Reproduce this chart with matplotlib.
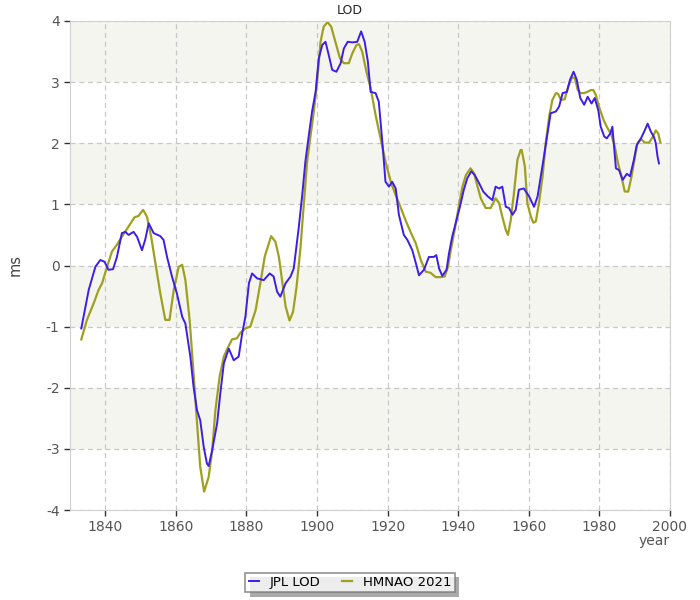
import matplotlib
matplotlib.use('Agg')
import matplotlib.pyplot as plt
from matplotlib.patches import Rectangle

plt.rcParams['font.family'] = ['DejaVu Sans']
plt.rcParams['axes.unicode_minus'] = False

# --- data ---
jpl_year = [1833.2, 1835.3, 1837.2, 1838.6, 1839.8, 1840.9, 1842.2, 1843.3, 1844.7, 1845.7,
            1846.6, 1848.0, 1849.0, 1850.4, 1851.3, 1852.3, 1853.7, 1855.6, 1856.5, 1857.5,
            1858.9, 1860.3, 1861.8, 1862.7, 1864.1, 1865.0, 1866.0, 1866.9, 1867.9, 1868.8,
            1869.3, 1870.3, 1871.7, 1872.6, 1873.6, 1875.0, 1876.4, 1877.8, 1878.8, 1879.7,
            1880.7, 1881.6, 1883.0, 1884.9, 1886.6, 1887.7, 1888.7, 1889.6, 1891.1, 1892.5,
            1893.4, 1894.8, 1895.8, 1896.7, 1897.7, 1898.6, 1899.6, 1900.5, 1901.5, 1902.4,
            1903.3, 1904.3, 1905.5, 1906.7, 1907.6, 1908.7, 1910.0, 1911.4, 1912.5, 1913.5,
            1914.4, 1915.2, 1916.6, 1917.5, 1918.5, 1919.4, 1920.4, 1921.3, 1922.3, 1923.2,
            1924.6, 1925.6, 1927.0, 1928.0, 1928.9, 1930.3, 1931.7, 1933.1, 1933.8, 1934.6,
            1935.5, 1936.7, 1937.4, 1938.3, 1939.3, 1940.5, 1941.6, 1942.6, 1943.7, 1944.7,
            1945.9, 1947.1, 1948.4, 1949.7, 1950.6, 1951.6, 1952.5, 1953.5, 1954.4, 1955.4,
            1956.3, 1957.2, 1958.6, 1960.1, 1961.5, 1962.5, 1963.4, 1964.3, 1965.3, 1966.2,
            1967.7, 1968.6, 1969.6, 1970.8, 1971.7, 1972.7, 1973.6, 1974.6, 1975.7, 1976.7,
            1977.8, 1978.7, 1979.7, 1980.4, 1981.4, 1982.1, 1983.1, 1983.7, 1984.2, 1984.7,
            1985.6, 1986.6, 1987.8, 1988.7, 1989.8, 1990.6, 1991.8, 1992.7, 1993.7, 1994.6,
            1995.5, 1996.0, 1996.5, 1996.9]
jpl_lod = [-1.03, -0.40, -0.02, 0.09, 0.06, -0.07, -0.06, 0.14, 0.53, 0.55,
           0.50, 0.55, 0.47, 0.25, 0.42, 0.69, 0.53, 0.48, 0.42, 0.14,
           -0.18, -0.46, -0.84, -0.95, -1.49, -1.98, -2.37, -2.53, -2.97, -3.24,
           -3.28, -3.02, -2.58, -2.09, -1.60, -1.36, -1.55, -1.49, -1.11, -0.84,
           -0.29, -0.13, -0.21, -0.24, -0.13, -0.18, -0.43, -0.51, -0.29, -0.18,
           -0.05, 0.61, 1.15, 1.70, 2.14, 2.52, 2.84, 3.39, 3.61, 3.66,
           3.45, 3.20, 3.17, 3.31, 3.55, 3.66, 3.65, 3.66, 3.83, 3.66,
           3.34, 2.84, 2.82, 2.68, 2.03, 1.37, 1.29, 1.37, 1.26, 0.83,
           0.50, 0.42, 0.25, 0.04, -0.16, -0.07, 0.14, 0.14, 0.17, -0.05,
           -0.17, -0.07, 0.20, 0.47, 0.69, 0.96, 1.24, 1.43, 1.54, 1.48,
           1.35, 1.21, 1.13, 1.07, 1.29, 1.26, 1.29, 0.96, 0.94, 0.83,
           0.91, 1.24, 1.26, 1.13, 0.96, 1.13, 1.45, 1.78, 2.16, 2.49,
           2.52, 2.60, 2.82, 2.84, 3.04, 3.17, 3.04, 2.74, 2.63, 2.76,
           2.65, 2.74, 2.54, 2.27, 2.11, 2.08, 2.16, 2.27, 1.94, 1.59,
           1.56, 1.40, 1.50, 1.46, 1.73, 1.97, 2.08, 2.19, 2.32, 2.19,
           2.10, 2.00, 1.78, 1.67]

hm_year = [1833.2, 1834.8, 1836.7, 1838.1, 1839.1, 1840.5, 1841.9, 1843.3, 1844.7, 1846.6,
           1848.3, 1849.4, 1850.7, 1851.8, 1853.0, 1854.2, 1855.6, 1857.0, 1858.2, 1859.4,
           1860.8, 1861.8, 1862.7, 1863.9, 1865.0, 1866.0, 1866.9, 1868.0, 1869.3, 1870.3,
           1871.2, 1872.4, 1873.6, 1874.6, 1875.9, 1877.3, 1878.3, 1879.7, 1881.1, 1882.6,
           1884.0, 1885.2, 1887.0, 1888.2, 1889.2, 1890.1, 1891.1, 1892.2, 1893.2, 1894.2,
           1895.3, 1896.3, 1897.2, 1898.2, 1899.1, 1900.1, 1901.0, 1901.9, 1903.0, 1904.0,
           1905.2, 1906.5, 1907.6, 1909.0, 1910.0, 1911.2, 1911.9, 1912.8, 1914.0, 1915.2,
           1916.6, 1918.0, 1919.4, 1920.9, 1922.3, 1923.7, 1925.1, 1926.5, 1928.0, 1929.4,
           1930.8, 1932.2, 1933.6, 1935.0, 1936.2, 1937.1, 1938.1, 1939.0, 1940.0, 1941.2,
           1942.2, 1943.5, 1944.5, 1945.5, 1946.4, 1947.8, 1949.2, 1950.6, 1951.6, 1952.5,
           1953.5, 1954.1, 1954.9, 1955.8, 1956.8, 1957.7, 1958.0, 1958.9, 1959.6, 1960.6,
           1961.3, 1962.0, 1962.9, 1963.9, 1964.8, 1965.8, 1966.7, 1967.7, 1968.3, 1969.1,
           1970.2, 1971.2, 1972.3, 1973.1, 1973.9, 1974.7, 1975.7, 1976.6, 1977.6, 1978.3,
           1979.0, 1979.9, 1981.2, 1982.3, 1983.4, 1984.4, 1985.3, 1986.3, 1987.2, 1988.2,
           1989.1, 1990.1, 1990.8, 1991.8, 1992.9, 1994.1, 1995.1, 1996.0, 1996.7, 1997.3]
hm_lod = [-1.21, -0.89, -0.62, -0.40, -0.29, -0.02, 0.23, 0.34, 0.47, 0.64,
          0.79, 0.81, 0.91, 0.80, 0.47, 0.04, -0.46, -0.89, -0.89, -0.40,
          -0.02, 0.01, -0.24, -0.89, -1.76, -2.58, -3.29, -3.70, -3.46, -3.02,
          -2.37, -1.82, -1.49, -1.36, -1.21, -1.19, -1.10, -1.03, -1.00, -0.73,
          -0.27, 0.15, 0.48, 0.39, 0.14, -0.24, -0.67, -0.90, -0.76, -0.35,
          0.28, 1.04, 1.70, 2.14, 2.52, 3.06, 3.66, 3.91, 3.98, 3.91,
          3.66, 3.39, 3.31, 3.31, 3.47, 3.61, 3.62, 3.50, 3.17, 2.90,
          2.46, 2.08, 1.70, 1.37, 1.15, 0.95, 0.74, 0.55, 0.36, 0.09,
          -0.10, -0.12, -0.19, -0.19, -0.18, -0.02, 0.31, 0.58, 0.91, 1.29,
          1.48, 1.59, 1.51, 1.29, 1.10, 0.94, 0.94, 1.10, 1.02, 0.80,
          0.58, 0.50, 0.74, 1.18, 1.73, 1.89, 1.89, 1.62, 1.02, 0.80,
          0.70, 0.72, 1.02, 1.45, 2.00, 2.44, 2.71, 2.82, 2.81, 2.71,
          2.72, 2.93, 3.08, 3.06, 2.87, 2.82, 2.82, 2.84, 2.87, 2.87,
          2.79, 2.60, 2.38, 2.25, 2.14, 1.94, 1.67, 1.45, 1.21, 1.21,
          1.45, 1.78, 2.00, 2.07, 2.01, 2.01, 2.10, 2.21, 2.16, 2.01]

x_ticks = [1840, 1860, 1880, 1900, 1920, 1940, 1960, 1980, 2000]
y_ticks = [-4, -3, -2, -1, 0, 1, 2, 3, 4]

fig = plt.figure(figsize=(7, 6), dpi=100)
ax = fig.add_axes([0.1, 0.15, 0.857, 0.815])

# alternating horizontal bands
for lo in [3, 1, -1, -3]:
    ax.axhspan(lo, lo + 1, color='#f5f5f0', zorder=0, lw=0)

ax.plot(jpl_year, jpl_lod, color='#3c1ee6', lw=1.4, label='JPL LOD', zorder=3)
ax.plot(hm_year, hm_lod, color='#a0a020', lw=1.6, label='HMNAO 2021', zorder=2)

ax.set_xlim(1830, 2000)
ax.set_ylim(-4, 4)
ax.set_xticks(x_ticks)
ax.set_yticks(y_ticks)
ax.grid(True, color='#c8c8c8', ls=(0, (4, 3)), lw=0.9)
ax.set_axisbelow(True)
for s in ax.spines.values():
    s.set_color('#d0d0d0')
ax.tick_params(colors='#333333', labelcolor='#555555', labelsize=10, length=4, width=1)

fig.text(0.5, 0.983, 'LOD', ha='center', va='center', fontsize=9, color='#222222')
fig.text(0.022, 0.558, 'ms', rotation=90, ha='center', va='center', fontsize=10.5, color='#444444')
fig.text(0.935, 0.098, 'year', ha='center', va='center', fontsize=10, color='#555555')

# legend with drop shadow
leg = fig.legend(loc='center', bbox_to_anchor=(0.5, 0.029), ncol=2, frameon=True, fancybox=False,
                 shadow=False, fontsize=9.5, handlelength=0.8, handletextpad=0.8,
                 columnspacing=1.6, borderpad=0.25, edgecolor='#777777')
leg.get_frame().set_linewidth(1.2)
fig.canvas.draw()
bb = leg.get_window_extent().transformed(fig.transFigure.inverted())
fig.patches.append(Rectangle((bb.x0 + 0.006, bb.y0 - 0.007), bb.width, bb.height,
                             transform=fig.transFigure, color='#aaaaaa', zorder=-1, lw=0))

fig.savefig('out.png', dpi=100)
